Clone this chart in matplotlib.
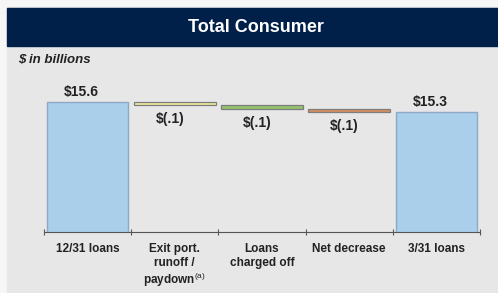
import matplotlib.pyplot as plt
from matplotlib.patches import Rectangle

plt.rcParams['font.family'] = ['Liberation Sans', 'DejaVu Sans']
plt.rcParams['mathtext.fontset'] = 'custom'
plt.rcParams['mathtext.rm'] = 'Liberation Sans'

# waterfall data ($ in billions)
categories = ['12/31 loans', 'Exit port.\nrunoff /\npaydown$^{\\rm (a)}$',
              'Loans\ncharged off', 'Net decrease', '3/31 loans']
start_total = 15.6
changes = [-0.1, -0.1, -0.1]
end_total = 15.3
value_labels = ['$15.6', '$(.1)', '$(.1)', '$(.1)', '$15.3']
change_colors = ['#e9e89c', '#93c46c', '#d98f5c']

W, H = 498, 293
fig = plt.figure(figsize=(W / 100, H / 100), dpi=100, facecolor='#f6f6f6')

# panel + header band
fig.patches.append(Rectangle((7 / W, 0), 1, (H - 7) / H, transform=fig.transFigure,
                             color='#e7e7e7', zorder=-2))
fig.patches.append(Rectangle((7 / W, (H - 46) / H), 1, 38 / H, transform=fig.transFigure,
                             color='#00204a', zorder=-1))
fig.text(256 / W, (H - 27) / H, 'Total Consumer', color='white', fontsize=13,
         fontweight='bold', ha='center', va='center')
fig.text(18 / W, (H - 60) / H, '$ in billions', color='#222222', fontsize=9.5,
         fontweight='bold', style='italic', ha='left', va='center')

ax = fig.add_axes([44 / W, (H - 232) / H, 436 / W, 152 / H])
ax.set_zorder(5)
ax.set_facecolor('none')
ax.set_xlim(-0.5, len(categories) - 0.5)
ax.set_ylim(11.7, 16.26)

# totals
ax.bar([0, 4], [start_total, end_total], width=0.92, color='#a9cfea',
       edgecolor='#8ea9c6', linewidth=1)

# floating changes
level = start_total
for i, (ch, col) in enumerate(zip(changes, change_colors), start=1):
    ax.bar(i, -ch, bottom=level + ch, width=0.94, color=col,
           edgecolor='#7d7d7d', linewidth=0.9)
    ax.annotate(value_labels[i], (i, level + ch), xytext=(-3.5, -10),
                textcoords='offset points', ha='center', va='center',
                fontsize=10, fontweight='bold', color='#222222')
    level += ch

for i, v in [(0, start_total), (4, end_total)]:
    ax.annotate(value_labels[i], (i, v), xytext=(-4.5, 7.5), textcoords='offset points',
                ha='center', va='center', fontsize=10, fontweight='bold',
                color='#222222')

for s in ['top', 'right', 'left']:
    ax.spines[s].set_visible(False)
ax.spines['bottom'].set_color('#555555')
ax.spines['bottom'].set_linewidth(0.8)
ax.set_yticks([])
ax.set_xticks(range(len(categories)))
ax.set_xticklabels(categories, fontsize=8.5, fontweight='bold', color='#222222',
                   va='top', linespacing=1.18)
ax.tick_params(axis='x', which='major', length=0, pad=8)
ax.set_xticks([x - 0.5 for x in range(len(categories) + 1)], minor=True)
ax.tick_params(axis='x', which='minor', length=5, direction='inout',
               color='#555555', width=0.8)

fig.savefig('out.png', dpi=100, facecolor=fig.get_facecolor())
